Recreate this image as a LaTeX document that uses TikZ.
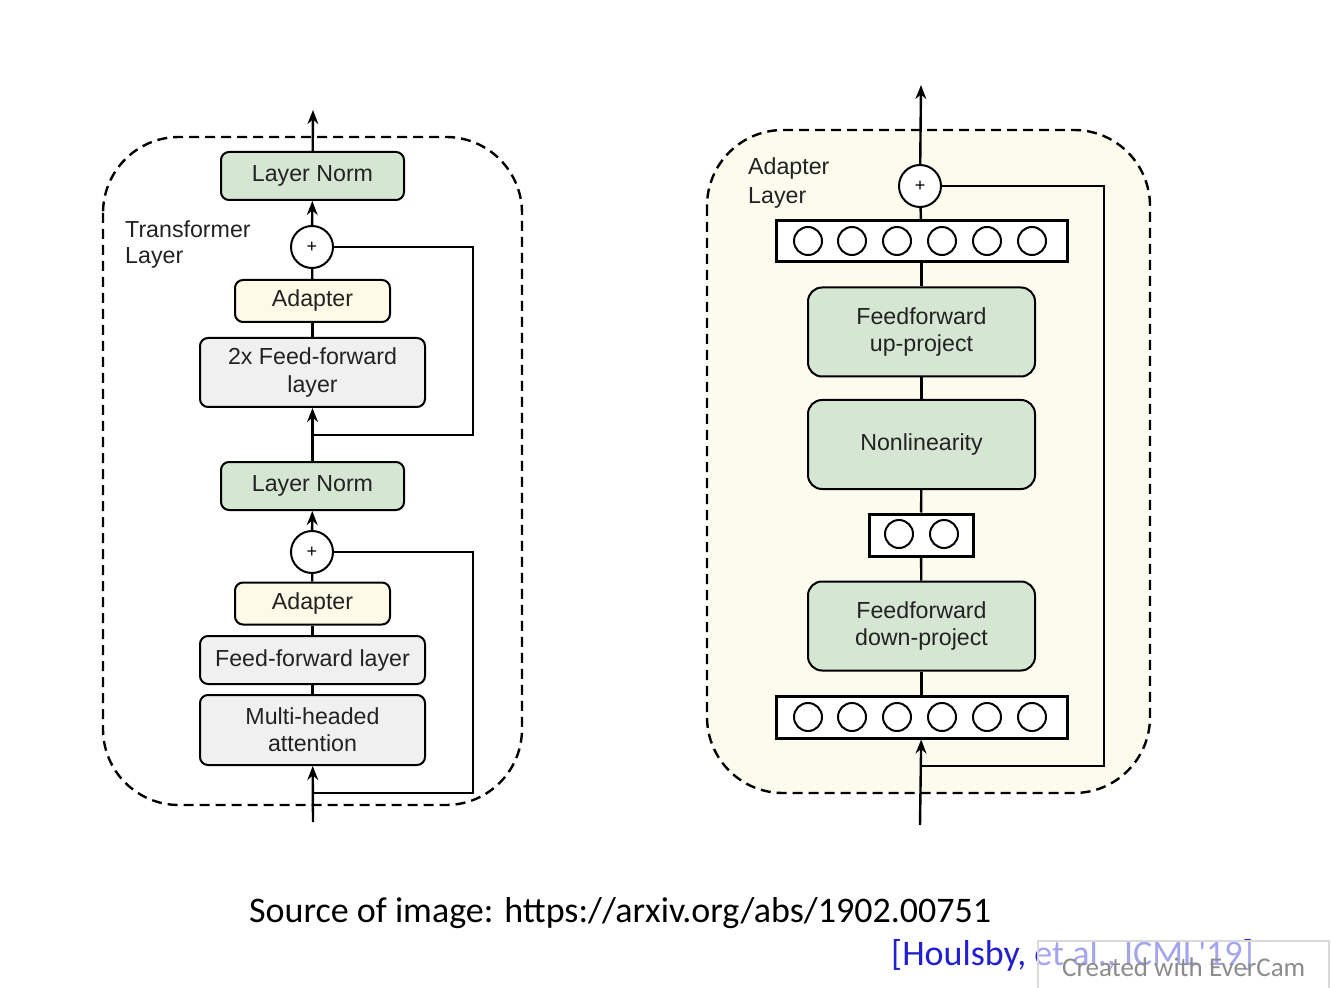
\documentclass[tikz,border=0pt]{standalone}
\usepackage{fontspec}
\setmainfont{Liberation Sans}
\newfontfamily\srcfont{Carlito}
\usepackage{xcolor}
\usetikzlibrary{arrows.meta,positioning}

\definecolor{normgreen}{RGB}{213,231,210}
\definecolor{ffgrey}{RGB}{240,240,240}
\definecolor{adaptyellow}{RGB}{253,251,231}
\definecolor{panelcream}{RGB}{251,251,238}
\definecolor{textdark}{RGB}{34,34,34}
\definecolor{citeblue}{RGB}{32,32,210}

\begin{document}
\begin{tikzpicture}[x=0.5pt, y=-0.5pt, >={Stealth[length=7pt,width=5.4pt]},
                line width=1.2pt,
                block/.style={draw, line width=1pt, rounded corners=4pt, align=center,
                  text=textdark, font=\fontsize{11.6}{13.6}\selectfont, inner sep=0pt},
                norm block/.style={block, fill=normgreen, minimum width=91.5pt, minimum height=24pt},
                adapter block/.style={block, fill=adaptyellow, minimum width=77.5pt, minimum height=21pt},
                ff block/.style={block, fill=ffgrey, minimum width=112.5pt},
                big block/.style={block, fill=normgreen, rounded corners=7pt,
                  minimum width=113.5pt, minimum height=44.5pt},
                plus node/.style={circle, draw, line width=1pt, fill=white, minimum size=21pt,
                  inner sep=0pt, font=\fontsize{9}{9}\selectfont},
                vec box/.style={draw, line width=1.5pt, fill=white, inner sep=0pt},
                unit/.style={circle, draw, line width=1pt, minimum size=14pt, inner sep=0pt},
                panel/.style={draw, dashed, dash pattern=on 5pt off 3pt, line width=1.2pt, rounded corners=38pt},
                tag/.style={align=left, text=textdark, inner sep=0pt}]

  \useasboundingbox (0,0) rectangle (1331,988);

  % panels
  \draw[panel] (103,137) rectangle (522,805);
  \draw[panel, fill=panelcream] (707,130) rectangle (1150,793);

  % transformer layer
  \node[norm block] (norm top) at (312.5,176) {Layer Norm};
  \node[plus node] (plus top) at (312,247) {+};
  \node[adapter block] (adapter top) at (312.5,301) {Adapter};
  \node[ff block, minimum height=34.5pt] (ff two) at (312.5,372.5) {2x Feed-forward\\layer};
  \node[norm block] (norm bot) at (312.5,486) {Layer Norm};
  \node[plus node] (plus bot) at (312,552) {+};
  \node[adapter block] (adapter bot) at (312.5,603.5) {Adapter};
  \node[ff block, minimum height=24pt] (ff one) at (312.5,660) {Feed-forward layer};
  \node[ff block, minimum height=35pt] (attn) at (312.5,730) {Multi-headed\\attention};
  \node[tag, anchor=north west, font=\fontsize{11.6}{13}\selectfont] (tf label) at (124,220) {Transformer\\Layer};

  \coordinate (tf in) at (313,822);
  \coordinate (tf split) at (313,793);
  \coordinate (tf mid) at (313,435);
  \coordinate (tf out) at (313,110);

  \draw[->] (tf in) -- (attn);
  \draw (attn) -- (ff one);
  \draw (ff one) -- (adapter bot);
  \draw (adapter bot) -- (plus bot);
  \draw[->] (plus bot) -- (norm bot);
  \draw[->] (norm bot) -- (ff two);
  \draw (ff two) -- (adapter top);
  \draw (adapter top) -- (plus top);
  \draw[->] (plus top) -- (norm top);
  \draw[->] (norm top) -- (tf out);
  \draw (tf split) -- ++(160,0) |- (plus bot);
  \draw (tf mid) -- ++(160,0) |- (plus top);

  % adapter layer
  \node[plus node] (plus ad) at (920,186) {+};
  \node[vec box, minimum width=145.5pt, minimum height=20.5pt] (vec top) at (921.5,241.5) {};
  \node[big block] (up proj) at (921.5,332) {Feedforward\\up-project};
  \node[big block] (nonlin) at (921.5,444.5) {Nonlinearity};
  \node[vec box, minimum width=52pt, minimum height=21pt] (vec mid) at (921,535) {};
  \node[big block] (down proj) at (921.5,626) {Feedforward\\down-project};
  \node[vec box, minimum width=145.5pt, minimum height=21pt] (vec bot) at (921.5,717) {};
  \node[tag, anchor=north west, font=\fontsize{11.6}{14.6}\selectfont] (ad label) at (747,156) {Adapter\\Layer};

  \foreach \i/\x in {1/808,2/852,3/897,4/942,5/987,6/1032} {
    \node[unit] (top unit \i) at (\x,241) {};
    \node[unit] (bot unit \i) at (\x,717) {};
  }
  \foreach \i/\x in {1/899,2/944}
    \node[unit] (mid unit \i) at (\x,534) {};

  \coordinate (ad in) at (920,825);
  \coordinate (ad split) at (920,766);
  \coordinate (ad out) at (921,85);

  \draw[->] (ad in) -- (vec bot);
  \draw (vec bot) -- (down proj);
  \draw (down proj) -- (vec mid);
  \draw (vec mid) -- (nonlin);
  \draw (nonlin) -- (up proj);
  \draw (up proj) -- (vec top);
  \draw (vec top) -- (plus ad);
  \draw[->] (plus ad) -- (ad out);
  \draw (ad split) -- ++(184,0) |- (plus ad);

  % caption
  \node[anchor=base west, inner sep=0pt, font=\srcfont\fontsize{18}{20}\selectfont] (source)
    at (248,922) {Source of image: https://arxiv.org/abs/1902.00751};
  \node[anchor=base west, inner sep=0pt, text=citeblue, font=\srcfont\fontsize{18}{20}\selectfont] (cite)
    at (890,965) {[Houlsby, et al., ICML'19]};
  \node[anchor=north west, draw=black!15, fill=white, fill opacity=0.6, text opacity=1,
        text=black!45, minimum width=145.5pt, minimum height=26pt, inner xsep=9pt, inner ysep=2pt,
        font=\srcfont\fontsize{13.5}{15}\selectfont, align=left] (mark) at (1037,940) {Created with EverCam};
\end{tikzpicture}
\end{document}
